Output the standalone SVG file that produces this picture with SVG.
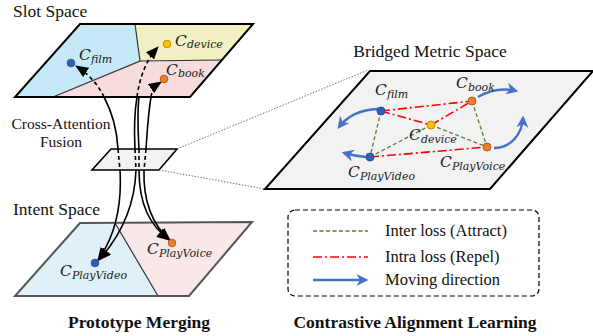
<svg xmlns="http://www.w3.org/2000/svg" width="593" height="336" viewBox="0 0 593 336">
<style>
.t{font-family:"Liberation Serif","Times New Roman",serif;fill:#111}
.c{font-family:"DejaVu Serif",serif;font-style:italic;font-size:15.5px;fill:#222}
.s{font-size:11px}
.blk{fill:none;stroke:#000;stroke-width:1.6}
.dsh{stroke-dasharray:4,3}
.inter{fill:none;stroke:#548235;stroke-width:1.3;stroke-dasharray:4,2.5}
.intra{fill:none;stroke:#ff0000;stroke-width:1.6;stroke-dasharray:9,3,2,3}
.mv{fill:none;stroke:#4472c4;stroke-width:2.4}
.dot{fill:none;stroke:#777;stroke-width:1;stroke-dasharray:1.5,1.5}
</style>
<defs>
<marker id="ah" viewBox="0 0 13 11" refX="12" refY="5.5" markerWidth="13" markerHeight="11" markerUnits="userSpaceOnUse" orient="auto">
<path d="M0,0 L13,5.5 L0,11 Z" fill="#000"/>
</marker>
<marker id="bh" viewBox="0 0 10 10" refX="8" refY="5" markerWidth="12" markerHeight="12" markerUnits="userSpaceOnUse" orient="auto">
<path d="M0,0 L10,5 L0,10 L3,5 Z" fill="#4472c4"/>
</marker>
</defs>

<!-- Left labels -->
<text class="t" x="13" y="17" font-size="17.5">Slot Space</text>
<text class="t" x="61" y="129" font-size="15.5" text-anchor="middle">Cross-Attention</text>
<text class="t" x="61" y="147" font-size="15.5" text-anchor="middle">Fusion</text>
<text class="t" x="13" y="215" font-size="17.5">Intent Space</text>

<!-- Slot space -->
<g id="slot-space">
<polygon points="80,24 135,24 140,61 53,97 15,97" fill="#c5e9f6"/>
<polygon points="135,24 253,24 221,60 140,61" fill="#f1f1c3"/>
<polygon points="140,61 221,60 190,97 53,97" fill="#f6dcdc"/>
<polyline points="135,24 140,61 53,97" fill="none" stroke="#333" stroke-width="1.2"/>
<line x1="140" y1="61" x2="221" y2="60" stroke="#333" stroke-width="1.2"/>
<polygon points="80,24 253,24 190,97 15,97" fill="none" stroke="#000" stroke-width="2"/>
</g>

<!-- Intent space -->
<g id="intent-space">
<polygon points="80,223 115,223 158,296 15,296" fill="#dff0f8"/>
<polygon points="115,223 252,222 189,296 158,296" fill="#f8e8e8"/>
<line x1="115" y1="223" x2="158" y2="296" stroke="#333" stroke-width="1.2"/>
<polygon points="80,223 252,222 189,296 15,296" fill="none" stroke="#555" stroke-width="2"/>
</g>

<!-- Fusion plane -->
<g id="fusion-plane">
<polygon points="111,149 177,149 159,170 92,170" fill="#f2f2f2" stroke="#000" stroke-width="1.6"/>
</g>

<!-- Zoom dotted lines -->
<g id="zoom-lines">
<line class="dot" x1="177" y1="149" x2="368" y2="70"/>
<line class="dot" x1="159" y1="170" x2="265" y2="189"/>
</g>

<!-- Merging connectors -->
<g id="merge-connectors">
<path class="blk dsh" d="M104,97 Q95,78 76,66" marker-end="url(#ah)"/>
<path class="blk" d="M104,97 C112,112 117,130 118,149"/>
<path class="blk dsh" d="M118,149 L120,170"/>
<path class="blk" d="M120,170 C122,205 116,235 98,260" marker-end="url(#ah)"/>

<path class="blk dsh" d="M137,97 Q141,66 158,47" marker-end="url(#ah)"/>
<path class="blk" d="M137,97 C134,115 134,130 135,149"/>
<path class="blk dsh" d="M135,149 L136,170"/>
<path class="blk" d="M136,170 C135,200 124,232 99,260" marker-end="url(#ah)"/>

<path class="blk" d="M139,97 C137,115 138,130 139,149"/>
<path class="blk dsh" d="M139,149 L139,170"/>
<path class="blk" d="M139,170 C139,205 150,225 169,240" marker-end="url(#ah)"/>

<path class="blk dsh" d="M151,97 Q152,88 161,82" marker-end="url(#ah)"/>
<path class="blk" d="M151,97 C148,115 147,135 146,149"/>
<path class="blk dsh" d="M146,149 L144,170"/>
<path class="blk" d="M144,170 C143,200 152,225 170,240" marker-end="url(#ah)"/>
</g>

<!-- Slot prototypes -->
<g id="slot-film">
<circle cx="71" cy="63" r="3.8" fill="#2e5fbf" stroke="#2f4f8f" stroke-width="1"/>
<text class="c" x="79" y="60">C<tspan class="s" dy="3">film</tspan></text>
</g>
<g id="slot-device">
<circle cx="167" cy="44" r="3.8" fill="#ffc000" stroke="#c58a00" stroke-width="1"/>
<text class="c" x="175" y="46">C<tspan class="s" dy="2">device</tspan></text>
</g>
<g id="slot-book">
<circle cx="164" cy="79" r="3.8" fill="#ed7d31" stroke="#b85a15" stroke-width="1"/>
<text class="c" x="166" y="75">C<tspan class="s" dy="2">book</tspan></text>
</g>
<g id="intent-playvideo">
<circle cx="95" cy="263" r="3.8" fill="#2e5fbf" stroke="#2f4f8f" stroke-width="1"/>
<text class="c" x="60" y="276">C<tspan class="s" dy="3">PlayVideo</tspan></text>
</g>
<g id="intent-playvoice">
<circle cx="172" cy="243" r="3.8" fill="#ed7d31" stroke="#b85a15" stroke-width="1"/>
<text class="c" x="147" y="254">C<tspan class="s" dy="3">PlayVoice</tspan></text>
</g>

<!-- Bridged metric space -->
<text class="t" x="430" y="57" font-size="17.5" text-anchor="middle">Bridged Metric Space</text>
<g id="bridged-space">
<polygon points="370,71 593,71 490,189 265,189" fill="#f2f2f2" stroke="#000" stroke-width="2"/>
</g>

<g id="loss-connectors">
<line class="inter" x1="381" y1="111" x2="370" y2="157"/>
<line class="inter" x1="431" y1="125" x2="370" y2="157"/>
<line class="inter" x1="431" y1="125" x2="487" y2="147"/>
<line class="inter" x1="472" y1="101" x2="487" y2="147"/>
<line class="intra" x1="381" y1="111" x2="472" y2="101"/>
<line class="intra" x1="381" y1="111" x2="431" y2="125"/>
<line class="intra" x1="431" y1="125" x2="472" y2="101"/>
<line class="intra" x1="370" y1="157" x2="487" y2="147"/>
<path class="mv" d="M378,109 Q352,110 339,127" marker-end="url(#bh)"/>
<path class="mv" d="M366,157 Q355,156 344,153" marker-end="url(#bh)"/>
<path class="mv" d="M478,97 Q497,86 516,91" marker-end="url(#bh)"/>
<path class="mv" d="M494,148 C510,148 522,135 523,118" marker-end="url(#bh)"/>
</g>

<g id="b-film">
<circle cx="381" cy="111" r="4" fill="#2e5fbf" stroke="#2f4f8f" stroke-width="1"/>
<text class="c" x="375" y="95">C<tspan class="s" dy="3">film</tspan></text>
</g>
<g id="b-book">
<circle cx="472" cy="101" r="4" fill="#ed7d31" stroke="#b85a15" stroke-width="1"/>
<text class="c" x="456" y="88">C<tspan class="s" dy="3">book</tspan></text>
</g>
<g id="b-device">
<circle cx="431" cy="125" r="4" fill="#ffc000" stroke="#c58a00" stroke-width="1"/>
<text class="c" x="409" y="140">C<tspan class="s" dy="3">device</tspan></text>
</g>
<g id="b-playvoice">
<circle cx="487" cy="147" r="4" fill="#ed7d31" stroke="#b85a15" stroke-width="1"/>
<text class="c" x="440" y="167">C<tspan class="s" dy="3">PlayVoice</tspan></text>
</g>
<g id="b-playvideo">
<circle cx="370" cy="157" r="4" fill="#2e5fbf" stroke="#2f4f8f" stroke-width="1"/>
<text class="c" x="348" y="177">C<tspan class="s" dy="3">PlayVideo</tspan></text>
</g>

<!-- Legend -->
<g id="legend">
<rect x="288" y="210" width="251" height="86" rx="7" fill="none" stroke="#000" stroke-width="1.2" stroke-dasharray="5,3"/>
<line class="inter" x1="313" y1="231" x2="368" y2="231"/>
<text class="t" x="385" y="236" font-size="16.5">Inter loss (Attract)</text>
<line class="intra" x1="313" y1="257" x2="368" y2="257"/>
<text class="t" x="385" y="262" font-size="16.5">Intra loss (Repel)</text>
<line class="mv" x1="313" y1="280" x2="366" y2="280" marker-end="url(#bh)"/>
<text class="t" x="385" y="285" font-size="16.5">Moving direction</text>
</g>

<!-- Captions -->
<text class="t" x="139" y="328" font-size="17.5" font-weight="bold" text-anchor="middle">Prototype Merging</text>
<text class="t" x="415" y="328" font-size="17.5" font-weight="bold" text-anchor="middle">Contrastive Alignment Learning</text>
</svg>
